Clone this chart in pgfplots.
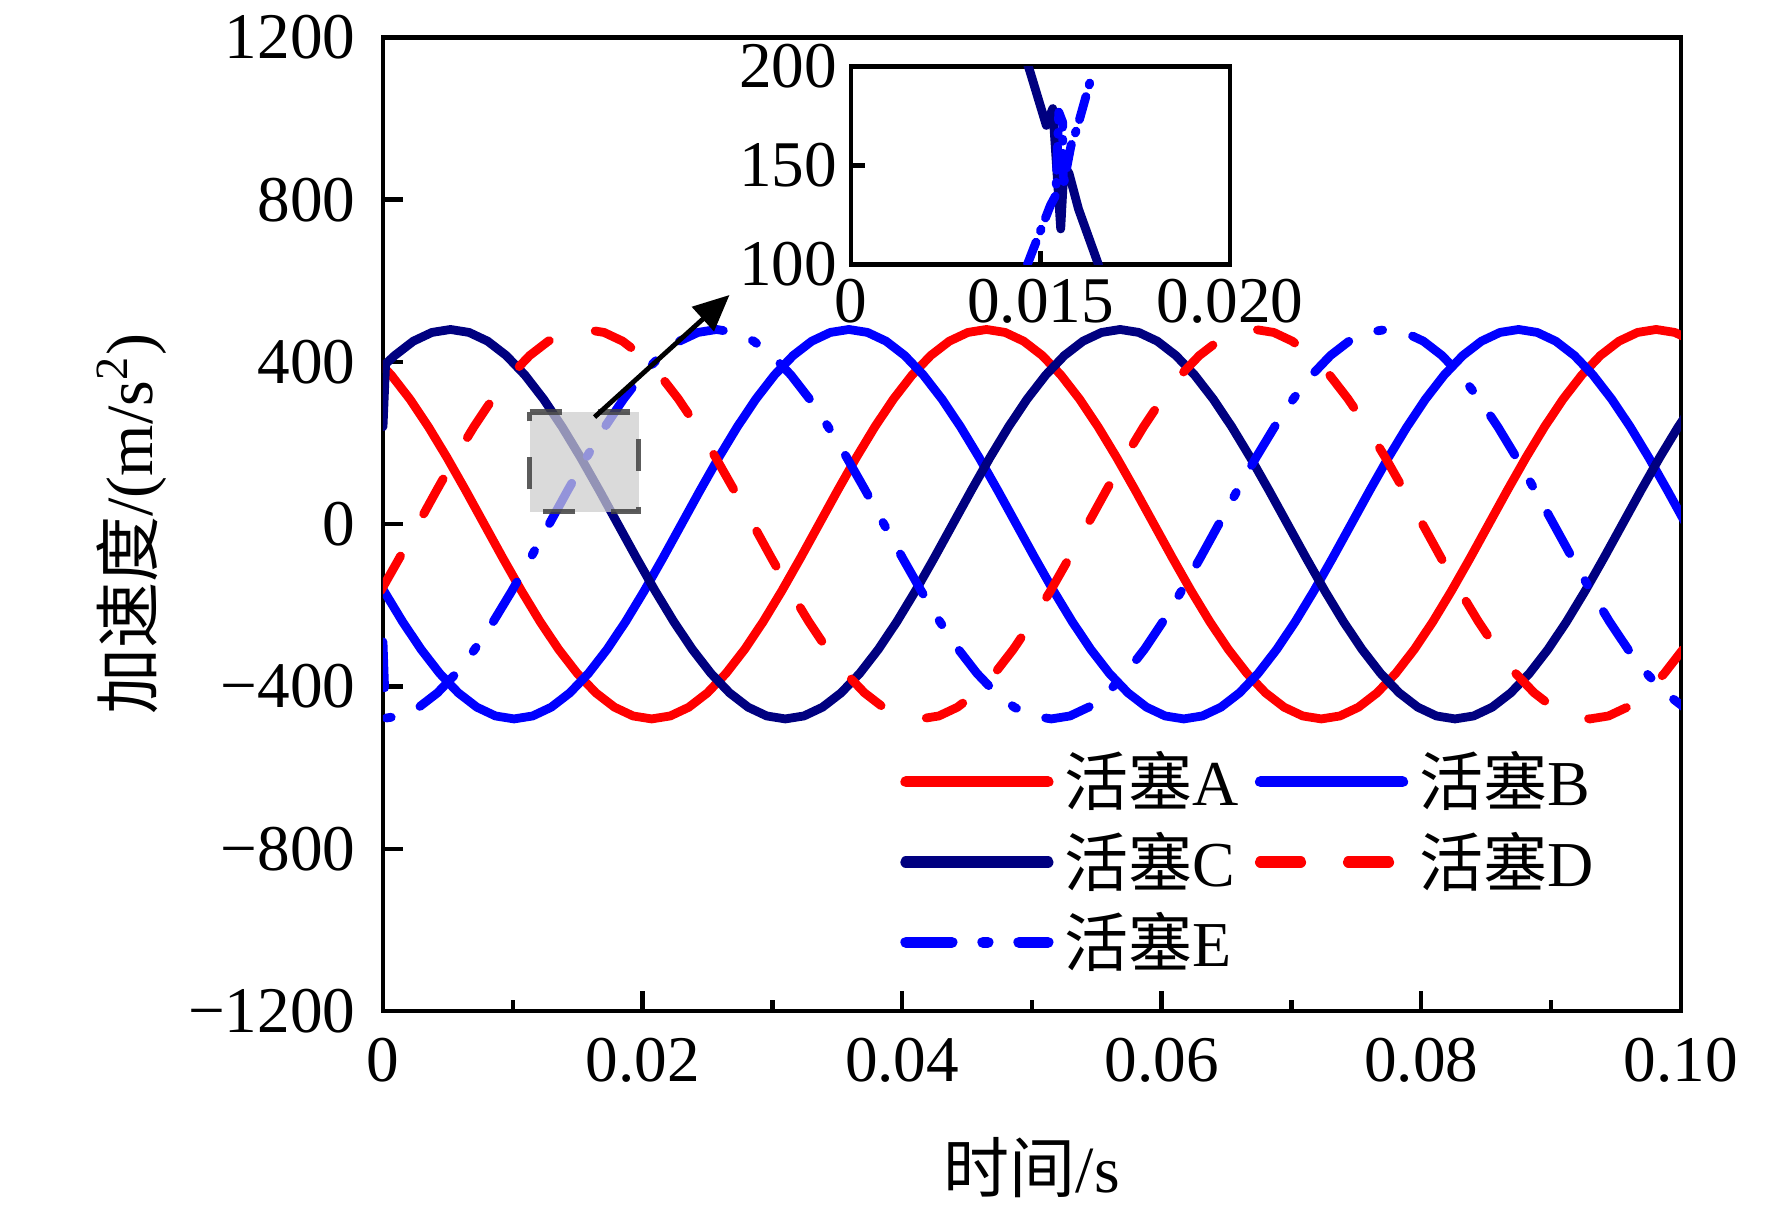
\documentclass[border=0pt]{standalone}
\usepackage{fontspec}
\setmainfont{Liberation Serif}
\newfontfamily\cjk{Noto Sans CJK SC}
\usepackage{pgfplots}
\pgfplotsset{compat=1.18}
\usetikzlibrary{arrows.meta}
\definecolor{navy}{RGB}{0,0,128}
\definecolor{pblue}{RGB}{0,0,255}
\definecolor{pred}{RGB}{255,0,0}
\begin{document}
\begin{tikzpicture}
\begin{axis}[name=main, at={(0,0)}, anchor=south west, scale only axis,
  width=324.45pt, height=243.4pt,
  xmin=0, xmax=0.1, ymin=-1200, ymax=1200,
  xtick={0,0.02,0.04,0.06,0.08,0.1}, xticklabels={0,0.02,0.04,0.06,0.08,0.10},
  minor xtick={0.01,0.03,0.05,0.07,0.09},
  ytick={-1200,-800,-400,0,400,800,1200}, yticklabels={−1200,−800,−400,0,400,800,1200},
  xtick pos=bottom, ytick pos=left, tick align=inside,
  major tick length=5pt, minor tick length=2.8pt,
  axis line style={line width=1.1pt}, tick style={line width=1.1pt,black},
  tick label style={font=\fontsize{16.3}{19}\selectfont},
  xticklabel style={yshift=-3.2pt},
  yticklabel style={xshift=-3.4pt},
  xlabel={{\cjk 时间}/s}, ylabel={{\cjk 加速度}/(m/s\textsuperscript{2})},
  every axis x label/.style={at={(axis description cs:0.5,0)}, anchor=base, yshift=-45.25pt, inner sep=0pt, font=\fontsize{16.5}{19}\selectfont},
  every axis y label/.style={at={(axis description cs:0,0.5)}, xshift=-57.5pt, rotate=90, anchor=base, inner sep=0pt, font=\fontsize{16.5}{19}\selectfont},
  no markers,
  legend style={draw=none, fill=none, at={(0.398,0.2753)}, anchor=north west,
    inner sep=0pt, row sep=1pt, font=\fontsize{16}{19}\selectfont,
    nodes={inner sep=2pt},
    /tikz/every odd column/.style={column sep=0.8pt},
    /tikz/every even column/.style={column sep=2pt}},
  legend columns=2, legend cell align=left,
  legend image code/.code={\draw[#1, line width=2.8pt] (0pt,0pt) -- (35.5pt,0pt);},
]
\addplot[pred, line width=2.2pt, line join=round, line cap=round] coordinates {(-0.000800,415.7)(0.000633,367.7)(0.002067,308.5)(0.003500,240)(0.004933,164.2)(0.006367,83.4)(0.007800,0)(0.009233,-83.4)(0.010667,-164.2)(0.012100,-240)(0.013533,-308.5)(0.014967,-367.7)(0.016400,-415.7)(0.017833,-451.1)(0.019267,-472.7)(0.020700,-480)(0.022133,-472.7)(0.023567,-451.1)(0.025000,-415.7)(0.026433,-367.7)(0.027867,-308.5)(0.029300,-240)(0.030733,-164.2)(0.032167,-83.4)(0.033600,0)(0.035033,83.4)(0.036467,164.2)(0.037900,240)(0.039333,308.5)(0.040767,367.7)(0.042200,415.7)(0.043633,451.1)(0.045067,472.7)(0.046500,480)(0.047933,472.7)(0.049367,451.1)(0.050800,415.7)(0.052233,367.7)(0.053667,308.5)(0.055100,240)(0.056533,164.2)(0.057967,83.4)(0.059400,0)(0.060833,-83.4)(0.062267,-164.2)(0.063700,-240)(0.065133,-308.5)(0.066567,-367.7)(0.068000,-415.7)(0.069433,-451.1)(0.070867,-472.7)(0.072300,-480)(0.073733,-472.7)(0.075167,-451.1)(0.076600,-415.7)(0.078033,-367.7)(0.079467,-308.5)(0.080900,-240)(0.082333,-164.2)(0.083767,-83.4)(0.085200,0)(0.086633,83.4)(0.088067,164.2)(0.089500,240)(0.090933,308.5)(0.092367,367.7)(0.093800,415.7)(0.095233,451.1)(0.096667,472.7)(0.098100,480)(0.099533,472.7)(0.100967,451.1)};
\addlegendentry{{\cjk 活塞}A}
\addplot[pblue, line width=2.2pt, line join=round, line cap=round] coordinates {(-0.001367,-83.4)(0.000066,-164.2)(0.001500,-240)(0.002933,-308.5)(0.004366,-367.7)(0.005800,-415.7)(0.007233,-451.1)(0.008666,-472.7)(0.010100,-480)(0.011533,-472.7)(0.012966,-451.1)(0.014400,-415.7)(0.015833,-367.7)(0.017266,-308.5)(0.018700,-240)(0.020133,-164.2)(0.021566,-83.4)(0.023000,0)(0.024433,83.4)(0.025866,164.2)(0.027300,240)(0.028733,308.5)(0.030166,367.7)(0.031600,415.7)(0.033033,451.1)(0.034466,472.7)(0.035900,480)(0.037333,472.7)(0.038766,451.1)(0.040200,415.7)(0.041633,367.7)(0.043066,308.5)(0.044500,240)(0.045933,164.2)(0.047366,83.4)(0.048800,0)(0.050233,-83.4)(0.051666,-164.2)(0.053100,-240)(0.054533,-308.5)(0.055966,-367.7)(0.057400,-415.7)(0.058833,-451.1)(0.060266,-472.7)(0.061700,-480)(0.063133,-472.7)(0.064566,-451.1)(0.066000,-415.7)(0.067433,-367.7)(0.068866,-308.5)(0.070300,-240)(0.071733,-164.2)(0.073166,-83.4)(0.074600,0)(0.076033,83.4)(0.077466,164.2)(0.078900,240)(0.080333,308.5)(0.081766,367.7)(0.083200,415.7)(0.084633,451.1)(0.086066,472.7)(0.087500,480)(0.088933,472.7)(0.090366,451.1)(0.091800,415.7)(0.093233,367.7)(0.094666,308.5)(0.096100,240)(0.097533,164.2)(0.098966,83.4)(0.100400,0)};
\addlegendentry{{\cjk 活塞}B}
\addplot[navy, line width=2.2pt, line join=round, line cap=round] coordinates {(0,240)(0.0002,395)(0.000900,415.7)(0.002334,451.1)(0.003767,472.7)(0.005200,480)(0.006634,472.7)(0.008067,451.1)(0.009500,415.7)(0.010934,367.7)(0.012367,308.5)(0.013800,240)(0.015234,164.2)(0.016667,83.4)(0.018100,0)(0.019534,-83.4)(0.020967,-164.2)(0.022400,-240)(0.023834,-308.5)(0.025267,-367.7)(0.026700,-415.7)(0.028134,-451.1)(0.029567,-472.7)(0.031000,-480)(0.032434,-472.7)(0.033867,-451.1)(0.035300,-415.7)(0.036734,-367.7)(0.038167,-308.5)(0.039600,-240)(0.041034,-164.2)(0.042467,-83.4)(0.043900,0)(0.045334,83.4)(0.046767,164.2)(0.048200,240)(0.049634,308.5)(0.051067,367.7)(0.052500,415.7)(0.053934,451.1)(0.055367,472.7)(0.056800,480)(0.058234,472.7)(0.059667,451.1)(0.061100,415.7)(0.062534,367.7)(0.063967,308.5)(0.065400,240)(0.066834,164.2)(0.068267,83.4)(0.069700,0)(0.071134,-83.4)(0.072567,-164.2)(0.074000,-240)(0.075434,-308.5)(0.076867,-367.7)(0.078300,-415.7)(0.079734,-451.1)(0.081167,-472.7)(0.082600,-480)(0.084034,-472.7)(0.085467,-451.1)(0.086900,-415.7)(0.088334,-367.7)(0.089767,-308.5)(0.091200,-240)(0.092634,-164.2)(0.094067,-83.4)(0.095500,0)(0.096934,83.4)(0.098367,164.2)(0.099800,240)(0.101234,308.5)};
\addlegendentry{{\cjk 活塞}C}
\addplot[pred, line width=2.2pt, line join=round, line cap=round, dash pattern=on 10pt off 12pt] coordinates {(-0.000167,-164.2)(0.001266,-83.4)(0.002700,0)(0.004133,83.4)(0.005566,164.2)(0.007000,240)(0.008433,308.5)(0.009866,367.7)(0.011300,415.7)(0.012733,451.1)(0.014166,472.7)(0.015600,480)(0.017033,472.7)(0.018466,451.1)(0.019900,415.7)(0.021333,367.7)(0.022766,308.5)(0.024200,240)(0.025633,164.2)(0.027066,83.4)(0.028500,0)(0.029933,-83.4)(0.031366,-164.2)(0.032800,-240)(0.034233,-308.5)(0.035666,-367.7)(0.037100,-415.7)(0.038533,-451.1)(0.039966,-472.7)(0.041400,-480)(0.042833,-472.7)(0.044266,-451.1)(0.045700,-415.7)(0.047133,-367.7)(0.048566,-308.5)(0.050000,-240)(0.051433,-164.2)(0.052866,-83.4)(0.054300,0)(0.055733,83.4)(0.057166,164.2)(0.058600,240)(0.060033,308.5)(0.061466,367.7)(0.062900,415.7)(0.064333,451.1)(0.065766,472.7)(0.067200,480)(0.068633,472.7)(0.070066,451.1)(0.071500,415.7)(0.072933,367.7)(0.074366,308.5)(0.075800,240)(0.077233,164.2)(0.078666,83.4)(0.080100,0)(0.081533,-83.4)(0.082966,-164.2)(0.084400,-240)(0.085833,-308.5)(0.087266,-367.7)(0.088700,-415.7)(0.090133,-451.1)(0.091566,-472.7)(0.093000,-480)(0.094433,-472.7)(0.095866,-451.1)(0.097300,-415.7)(0.098733,-367.7)(0.100166,-308.5)};
\addlegendentry{{\cjk 活塞}D}
\addplot[pblue, line width=2.2pt, line join=round, line cap=round, dash pattern=on 11.5pt off 7.75pt on 1.25pt off 7.75pt] coordinates {(0,-290)(0.0002,-478)(0.001333,-472.7)(0.002767,-451.1)(0.004200,-415.7)(0.005633,-367.7)(0.007067,-308.5)(0.008500,-240)(0.009933,-164.2)(0.011367,-83.4)(0.012800,0)(0.014233,83.4)(0.015667,164.2)(0.017100,240)(0.018533,308.5)(0.019967,367.7)(0.021400,415.7)(0.022833,451.1)(0.024267,472.7)(0.025700,480)(0.027133,472.7)(0.028567,451.1)(0.030000,415.7)(0.031433,367.7)(0.032867,308.5)(0.034300,240)(0.035733,164.2)(0.037167,83.4)(0.038600,0)(0.040033,-83.4)(0.041467,-164.2)(0.042900,-240)(0.044333,-308.5)(0.045767,-367.7)(0.047200,-415.7)(0.048633,-451.1)(0.050067,-472.7)(0.051500,-480)(0.052933,-472.7)(0.054367,-451.1)(0.055800,-415.7)(0.057233,-367.7)(0.058667,-308.5)(0.060100,-240)(0.061533,-164.2)(0.062967,-83.4)(0.064400,0)(0.065833,83.4)(0.067267,164.2)(0.068700,240)(0.070133,308.5)(0.071567,367.7)(0.073000,415.7)(0.074433,451.1)(0.075867,472.7)(0.077300,480)(0.078733,472.7)(0.080167,451.1)(0.081600,415.7)(0.083033,367.7)(0.084467,308.5)(0.085900,240)(0.087333,164.2)(0.088767,83.4)(0.090200,0)(0.091633,-83.4)(0.093067,-164.2)(0.094500,-240)(0.095933,-308.5)(0.097367,-367.7)(0.098800,-415.7)(0.100233,-451.1)};
\addlegendentry{{\cjk 活塞}E}
% zoom box and arrow
\fill[black!20, opacity=0.72] (axis cs:0.0113,31) rectangle (axis cs:0.0197,277);
\draw[black!75, opacity=0.85, line width=1.4pt, dash pattern=on 8pt off 9pt] (axis cs:0.0113,277) -- (axis cs:0.0197,277) -- (axis cs:0.0197,31) -- (axis cs:0.0113,31) -- cycle;
\draw[black, line width=1.2pt, -{Triangle[length=9pt,width=8pt]}] (axis cs:0.0163,264) -- (axis cs:0.0267,565);
\end{axis}
\begin{axis}[at={(117pt,186.6pt)}, anchor=south west, scale only axis,
  width=94.8pt, height=49.5pt,
  xmin=0.010, xmax=0.020, ymin=100, ymax=200,
  xtick={0.010,0.015,0.020}, xticklabels={0,0.015,0.020}, scaled x ticks=false,
  ytick={100,150,200}, yticklabels={100,150,200},
  xtick pos=bottom, ytick pos=left, tick align=inside, major tick length=3.5pt,
  axis line style={line width=1.1pt}, tick style={line width=1.1pt,black},
  tick label style={font=\fontsize{16.3}{19}\selectfont},
  axis background/.style={fill=white}, no markers]
\addplot[navy, line width=2.2pt, line join=round, line cap=round] coordinates {(0.0145,210)(0.01472,197.5)(0.01515,170.3)(0.01532,178.8)(0.01553,118)(0.01562,150)(0.01575,146)(0.01600,128)(0.01651,100.8)(0.0166,95)};
\addplot[pblue, line width=2.2pt, line join=round, line cap=round, dash pattern=on 6pt off 3pt on 0.5pt off 3pt] coordinates {(0.01465,100)(0.01477,106)(0.01526,130)(0.01540,135)(0.01548,177)(0.01558,172)(0.01560,140)(0.01580,160)(0.01597,169.5)(0.01624,188)(0.0163,192)};
\end{axis}
\pgfresetboundingbox
\path[use as bounding box] (-95.75pt,-49pt) rectangle (347.25pt,252.75pt);
\end{tikzpicture}
\end{document}
